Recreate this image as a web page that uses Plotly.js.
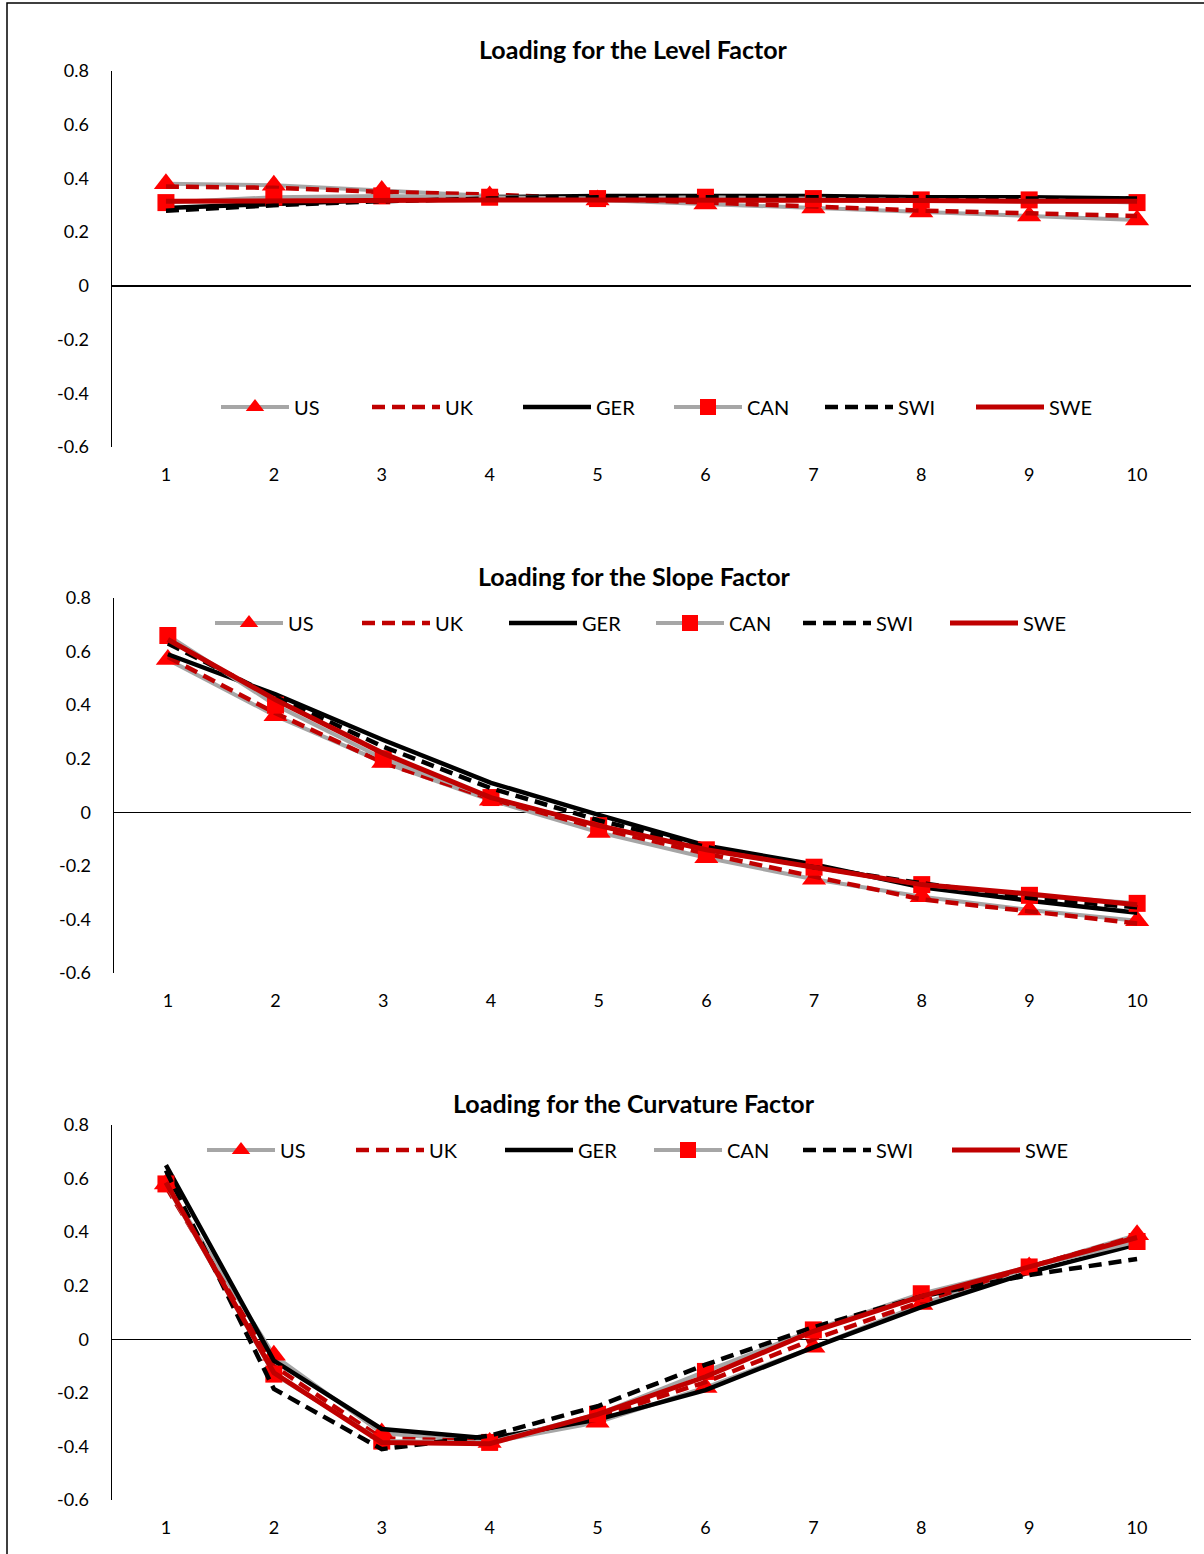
<!DOCTYPE html>
<html>
<head>
<meta charset="utf-8">
<script src="https://cdn.plot.ly/plotly-3.0.1.min.js"></script>
<style>html,body{margin:0;padding:0;background:#fff;}#chart{width:1204px;height:1554px;}</style>
</head>
<body>
<div id="chart"></div>
<script>
// ---- data ----
const maturities = [1, 2, 3, 4, 5, 6, 7, 8, 9, 10];
const seriesNames = ["US", "UK", "GER", "CAN", "SWI", "SWE"];
const panelTitles = ["Loading for the Level Factor", "Loading for the Slope Factor", "Loading for the Curvature Factor"];
const yTickVals = [-0.6, -0.4, -0.2, 0, 0.2, 0.4, 0.6, 0.8];
const yTickText = ["-0.6", "-0.4", "-0.2", "0", "0.2", "0.4", "0.6", "0.8"];

// Level factor
const levelUS  = [0.38, 0.375, 0.355, 0.335, 0.32, 0.305, 0.29, 0.275, 0.26, 0.245];
const levelUK  = [0.37, 0.365, 0.35, 0.34, 0.325, 0.31, 0.295, 0.28, 0.27, 0.26];
const levelGER = [0.29, 0.305, 0.32, 0.33, 0.335, 0.335, 0.335, 0.33, 0.33, 0.325];
const levelCAN = [0.31, 0.33, 0.335, 0.33, 0.325, 0.33, 0.325, 0.32, 0.32, 0.31];
const levelSWI = [0.28, 0.30, 0.315, 0.325, 0.33, 0.33, 0.33, 0.33, 0.325, 0.325];
const levelSWE = [0.315, 0.318, 0.32, 0.32, 0.32, 0.32, 0.32, 0.318, 0.315, 0.315];

// Slope factor
const slopeUS  = [0.57, 0.36, 0.186, 0.045, -0.075, -0.17, -0.25, -0.315, -0.365, -0.405];
const slopeUK  = [0.58, 0.37, 0.185, 0.05, -0.06, -0.155, -0.24, -0.325, -0.37, -0.415];
const slopeGER = [0.59, 0.44, 0.27, 0.11, -0.01, -0.125, -0.195, -0.28, -0.33, -0.375];
const slopeCAN = [0.66, 0.40, 0.20, 0.055, -0.05, -0.14, -0.205, -0.27, -0.31, -0.34];
const slopeSWI = [0.63, 0.43, 0.245, 0.09, -0.03, -0.13, -0.205, -0.265, -0.32, -0.355];
const slopeSWE = [0.645, 0.42, 0.22, 0.055, -0.05, -0.14, -0.205, -0.27, -0.305, -0.345];

// Curvature factor
const curvUS  = [0.58, -0.06, -0.35, -0.385, -0.31, -0.18, -0.03, 0.13, 0.27, 0.39];
const curvUK  = [0.57, -0.10, -0.37, -0.38, -0.29, -0.16, 0.0, 0.14, 0.27, 0.385];
const curvGER = [0.65, -0.08, -0.335, -0.37, -0.30, -0.19, -0.03, 0.12, 0.25, 0.355];
const curvCAN = [0.58, -0.13, -0.38, -0.385, -0.28, -0.12, 0.035, 0.17, 0.27, 0.365];
const curvSWI = [0.63, -0.185, -0.41, -0.36, -0.25, -0.095, 0.045, 0.16, 0.24, 0.30];
const curvSWE = [0.585, -0.125, -0.385, -0.39, -0.28, -0.14, 0.03, 0.16, 0.27, 0.38];

const panels = [
  [levelUS, levelUK, levelGER, levelCAN, levelSWI, levelSWE],
  [slopeUS, slopeUK, slopeGER, slopeCAN, slopeSWI, slopeSWE],
  [curvUS, curvUK, curvGER, curvCAN, curvSWI, curvSWE]
];

// ---- styles ----
const GRAY = "#A6A6A6", DRED = "#C00000", RED = "#FF0000", BLACK = "#000000";
const styles = [
  {line: {color: GRAY, width: 4}, mode: "lines+markers", marker: {symbol: "triangle-up", size: 21, color: RED}},
  {line: {color: DRED, width: 4.5, dash: "13px,7px"}, mode: "lines"},
  {line: {color: BLACK, width: 4.5}, mode: "lines"},
  {line: {color: GRAY, width: 4}, mode: "lines+markers", marker: {symbol: "square", size: 17, color: RED}},
  {line: {color: BLACK, width: 4.5, dash: "13px,7px"}, mode: "lines"},
  {line: {color: DRED, width: 5}, mode: "lines"}
];

const W = 1204, H = 1554;
const px = v => v / W;
const py = v => 1 - v / H;
const panelGeom = [
  {top: 71, bottom: 447, left: 112, right: 1191, title: 49, legY: 407, legX: 669, entryW: 68},
  {top: 598, bottom: 973, left: 114, right: 1191, title: 576, legY: 623, legX: 651, entryW: 64},
  {top: 1125, bottom: 1500, left: 112, right: 1191, title: 1103, legY: 1150, legX: 649, entryW: 66}
];

const traces = [];
const layout = {
  width: W, height: H,
  margin: {l: 0, r: 0, t: 0, b: 0, autoexpand: false},
  paper_bgcolor: "#fff", plot_bgcolor: "rgba(0,0,0,0)",
  font: {family: "Lato, 'Open Sans', sans-serif", color: "#000", size: 18},
  showlegend: true,
  annotations: [],
  shapes: [
    {type: "rect", xref: "paper", yref: "paper", x0: px(7), x1: 1.05, y0: -0.05, y1: py(3),
     line: {color: "#000", width: 1.5}, fillcolor: "rgba(0,0,0,0)", layer: "below"}
  ]
};

panelGeom.forEach((g, p) => {
  const sfx = p === 0 ? "" : String(p + 1);
  const legKey = "legend" + sfx;
  panels[p].forEach((vals, i) => {
    const s = styles[i];
    const t = {
      type: "scatter", x: maturities, y: vals, name: seriesNames[i],
      mode: s.mode, line: s.line, xaxis: "x" + sfx, yaxis: "y" + sfx,
      legend: legKey, hoverinfo: "skip"
    };
    if (s.marker) t.marker = s.marker;
    traces.push(t);
  });
  layout["xaxis" + sfx] = {
    domain: [px(g.left), px(g.right)], anchor: "y" + sfx,
    range: [0.5, 10.5], tickvals: maturities, ticktext: maturities.map(String),
    showline: false, showgrid: false, zeroline: false,
    ticks: "outside", ticklen: 11, tickcolor: "rgba(0,0,0,0)",
    tickfont: {size: 18}, fixedrange: true, automargin: false
  };
  layout["yaxis" + sfx] = {
    domain: [py(g.bottom), py(g.top)], anchor: "x" + sfx,
    range: [-0.6, 0.8], tickvals: yTickVals, ticktext: yTickText,
    showline: true, linecolor: "#000", linewidth: 1.5,
    showgrid: false, zeroline: true, zerolinecolor: "#000", zerolinewidth: 1.5,
    ticks: "outside", ticklen: 18, tickcolor: "rgba(0,0,0,0)",
    tickfont: {size: 18}, fixedrange: true, automargin: false
  };
  layout[legKey] = {
    orientation: "h", x: px(g.legX), y: py(g.legY), xanchor: "center", yanchor: "middle",
    xref: "paper", yref: "paper",
    font: {size: 20}, bgcolor: "rgba(0,0,0,0)",
    entrywidth: g.entryW, entrywidthmode: "pixels", itemwidth: 68
  };
  layout.annotations.push({
    text: "<b>" + panelTitles[p] + "</b>", xref: "paper", yref: "paper",
    x: px(634), y: py(g.title), xanchor: "center", yanchor: "middle",
    showarrow: false, font: {size: 25}
  });
});

Plotly.newPlot("chart", traces, layout, {staticPlot: true});
</script>
</body>
</html>
